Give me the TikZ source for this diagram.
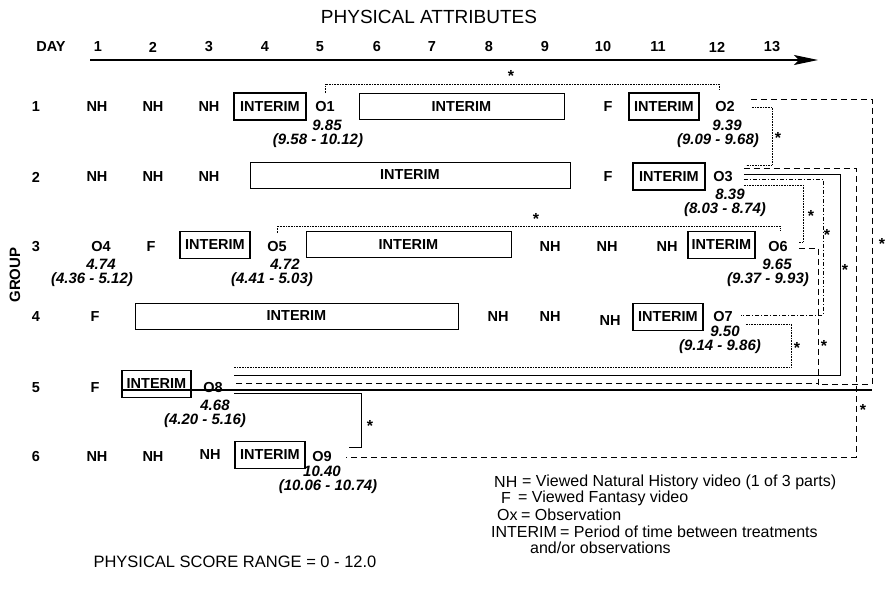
\documentclass[tikz,border=0pt]{standalone}
\usepackage{fontspec}
\setmainfont{Liberation Sans}
\usetikzlibrary{arrows.meta}

\tikzset{
  lab/.style={font=\fontsize{14.5}{16}\selectfont\bfseries, inner sep=1pt},
  val/.style={font=\fontsize{15}{14}\selectfont\bfseries\itshape, inner sep=0pt, align=center},
  shortbox/.style={lab, draw, line width=1.2pt, minimum width=#1, minimum height=27pt, inner sep=0pt},
  longbox/.style={lab, draw, line width=0.6pt, minimum width=#1, minimum height=26pt, inner sep=0pt},
  cmpdot/.style={densely dotted, line width=0.6pt},
  cmpdash/.style={dash pattern=on 6pt off 4pt, line width=0.8pt},
  cmpdashdot/.style={dash pattern=on 4pt off 2pt on 1pt off 2pt, line width=0.7pt},
  cmpsolid/.style={line width=0.9pt},
  signif/.style={font=\fontsize{16}{16}\selectfont\bfseries, inner sep=0pt, yshift=-3pt},
  legend/.style={font=\fontsize{16}{17}\selectfont, anchor=west, inner sep=0pt},
}

\begin{document}
\begin{tikzpicture}[x=1pt, y=-1pt]
  \useasboundingbox (0,0) rectangle (886,589);

  % heading and day axis
  \node[font=\fontsize{19}{21}\selectfont] (title) at (429,17) {PHYSICAL ATTRIBUTES};
  \node[lab] (day) at (51,47) {DAY};
  \foreach \d/\x in {1/98,2/153,3/209,4/265,5/320,6/377,7/432,8/489,9/545,10/603,11/658,12/717,13/772}
    \node[lab] (d\d) at (\x,47) {\d};
  \draw[line width=1.1pt, -{Stealth[length=24pt,width=10pt,inset=5pt]}] (90,60) -- (818,60);

  \node[lab, rotate=90, font=\fontsize{15}{16}\selectfont\bfseries] (group) at (15,275) {GROUP};
  \foreach \g/\y in {1/107,2/177,3/247,4/317,5/388,6/457}
    \node[lab] (g\g) at (36,\y) {\g};

  % group 1
  \node[lab] (nh1a) at (97,107) {NH};
  \node[lab] (nh1b) at (153,107) {NH};
  \node[lab] (nh1c) at (209,107) {NH};
  \node[shortbox=72pt] (in1a) at (270,106.5) {INTERIM};
  \node[lab] (O1) at (325,107) {O1};
  \node[longbox=205pt] (in1b) at (461.5,106.5) {INTERIM};
  \node[lab] (f1) at (608,107) {F};
  \node[shortbox=70pt] (in1c) at (664,106.5) {INTERIM};
  \node[lab] (O2) at (725,107) {O2};
  \node[val] (m1) at (318,134) {\hspace*{18pt}9.85\\(9.58 - 10.12)};
  \node[val] (m2) at (718,134) {\hspace*{18pt}9.39\\(9.09 - 9.68)};

  % group 2
  \node[lab] (nh2a) at (97,177) {NH};
  \node[lab] (nh2b) at (153,177) {NH};
  \node[lab] (nh2c) at (209,177) {NH};
  \node[longbox=320pt] (in2a) at (410,175) {INTERIM};
  \node[lab] (f2) at (608,177) {F};
  \node[shortbox=72pt] (in2b) at (669,176.5) {INTERIM};
  \node[lab] (O3) at (723,177) {O3};
  \node[val] (m3) at (725,203) {\hspace*{10pt}8.39\\(8.03 - 8.74)};

  % group 3
  \node[lab] (O4) at (101,247) {O4};
  \node[lab] (f3) at (151,247) {F};
  \node[shortbox=70pt] (in3a) at (215,245) {INTERIM};
  \node[lab] (O5) at (277,247) {O5};
  \node[longbox=205pt] (in3b) at (408.5,244.5) {INTERIM};
  \node[lab] (nh3a) at (550,247) {NH};
  \node[lab] (nh3b) at (607,247) {NH};
  \node[lab] (nh3c) at (667,247) {NH};
  \node[shortbox=67pt] (in3c) at (721.5,245) {INTERIM};
  \node[lab] (O6) at (778,247) {O6};
  \node[val] (m4) at (92,273) {\hspace*{18pt}4.74\\(4.36 - 5.12)};
  \node[val] (m5) at (272,273) {\hspace*{26pt}4.72\\(4.41 - 5.03)};
  \node[val] (m6) at (768,273) {\hspace*{18pt}9.65\\(9.37 - 9.93)};

  % group 4
  \node[lab] (f4) at (95,317) {F};
  \node[longbox=323pt] (in4a) at (296.5,316) {INTERIM};
  \node[lab] (nh4a) at (498,317) {NH};
  \node[lab] (nh4b) at (550,317) {NH};
  \node[lab] (nh4c) at (610,321) {NH};
  \node[shortbox=70pt] (in4b) at (668,317) {INTERIM};
  \node[lab] (O7) at (723,317) {O7};
  \node[val] (m7) at (720,340) {\hspace*{10pt}9.50\\(9.14 - 9.86)};

  % group 5
  \node[lab] (f5) at (95,388) {F};
  \node[shortbox=69pt] (in5) at (156.5,384) {INTERIM};
  \node[lab] (O8) at (213,388) {O8};
  \node[val] (m8) at (205,414) {\hspace*{20pt}4.68\\(4.20 - 5.16)};
  \draw[line width=1.8pt] (in5.west |- 0,390) -- (872,390);

  % group 6
  \node[lab] (nh6a) at (97,457) {NH};
  \node[lab] (nh6b) at (153,457) {NH};
  \node[lab] (nh6c) at (210,455) {NH};
  \node[shortbox=70pt] (in6) at (270,455) {INTERIM};
  \node[lab] (O9) at (322,457) {O9};
  \node[val] (m9) at (328,480) {10.40\hspace*{12pt}\\(10.06 - 10.74)};

  % comparisons
  \draw[cmpdot] (O1.north |- 0,93) |- ([xshift=-6pt]O2.north |- 0,84) -- ++(0,6);
  \node[signif] (s12) at (511,73) {*};
  \draw[cmpdot] (O5.north |- 0,233) |- ([xshift=2pt]O6.north |- 0,226) -- ++(0,5);
  \node[signif] (s56) at (536,216) {*};

  \draw[cmpdot] ([xshift=16pt]O2.east) -| ([xshift=38pt]O3.east |- 0,165) -- ([xshift=12pt]O3.east |- 0,165);
  \node[signif] (s23) at (778,135) {*};
  \draw[cmpdash] ([xshift=15pt]O2.east |- 0,99) -| (872,384) -- (818,384);
  \node[signif] (s28) at (882,241) {*};

  \draw[cmpdash] ([xshift=10pt]O3.east |- 0,168) -| (856,457) -- ([xshift=13pt]O9.east);
  \node[signif] (s39) at (863,407) {*};
  \draw[cmpsolid] ([xshift=10pt]O3.east |- 0,174) -| (840,375) -- ([xshift=10pt]O8.east |- 0,375);
  \node[signif] (s38) at (845,267) {*};
  \draw[cmpdashdot] ([xshift=10pt]O3.east |- 0,179) -| (823,315) -- ([xshift=7pt]O7.east |- 0,315);
  \node[signif] (s37) at (827,232) {*};
  \draw[cmpdot] ([xshift=10pt]O3.east |- 0,185) -| (803,242) -- ([xshift=9pt]O6.east |- 0,242);
  \node[signif] (s36) at (811,213) {*};

  \draw[cmpdash] ([xshift=10pt]O6.east |- 0,248) -| (818,383) -- ([xshift=10pt]O8.east |- 0,383);
  \node[signif] (s68) at (824,343) {*};
  \draw[cmpdot] ([xshift=12pt]O7.east |- 0,324) -| (791,367) -- ([xshift=10pt]O8.east |- 0,367);
  \node[signif] (s78) at (797,345) {*};
  \draw[cmpsolid] ([xshift=10pt]O8.east |- 0,393) -| (361,447) -- ([xshift=16pt]O9.east |- 0,447);
  \node[signif] (s89) at (370,423) {*};

  % key
  \node[legend] (kNH) at (494,482) {NH};
  \node[legend] (eNH) at (522,482) {= Viewed Natural History video (1 of 3 parts)};
  \node[legend] (kF) at (501,498) {F};
  \node[legend] (eF) at (518,498) {= Viewed Fantasy video};
  \node[legend] (kO) at (497,515) {Ox};
  \node[legend] (eO) at (521,515) {= Observation};
  \node[legend] (kI) at (491,532) {INTERIM};
  \node[legend] (eI) at (560,532) {= Period of time between treatments};
  \node[legend] (eI2) at (530,548) {and/or observations};
  \node[legend, anchor=center, font=\fontsize{16.5}{17}\selectfont] (range) at (235,562) {PHYSICAL SCORE RANGE = 0 - 12.0};
\end{tikzpicture}
\end{document}
